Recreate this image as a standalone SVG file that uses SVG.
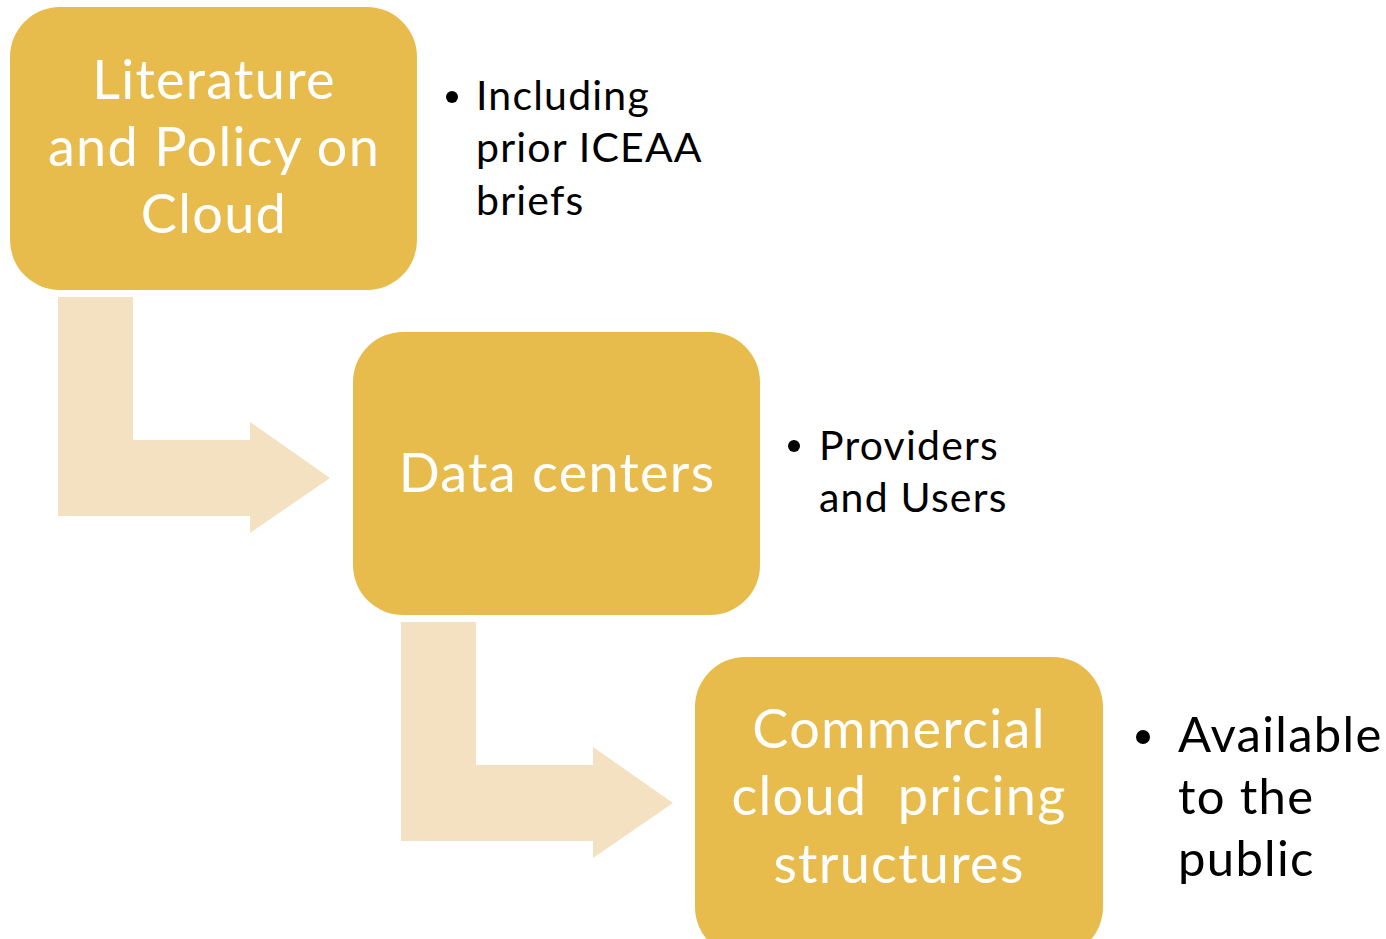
<svg xmlns="http://www.w3.org/2000/svg" width="1386" height="939" viewBox="0 0 1386 939">
<style>
.box{fill:#E8BC4C}
.arr{fill:#F3E1C2}
.bt{font-family:Lato,"Open Sans",sans-serif;font-size:54px;fill:#FFFFFF;text-anchor:middle;letter-spacing:1.3px}
.tx{font-family:Lato,"Open Sans",sans-serif;font-size:41px;fill:#000000;letter-spacing:1.2px}
.tx2{font-family:Lato,"Open Sans",sans-serif;font-size:49px;fill:#000000;letter-spacing:1.3px}
</style>
<rect width="1386" height="939" fill="#FFFFFF"/>
<g id="connectors">
<path class="arr" d="M58,297 H133 V440 H250 V422 L330,478 L250,533 V516 H58 Z"/>
<path class="arr" d="M401,622 H476 V765 H593 V747 L673,803 L593,858 V841 H401 Z"/>
</g>
<g id="node1">
<rect class="box" x="10" y="7" width="407" height="283" rx="50" ry="50"/>
<text class="bt" x="214" y="99">Literature</text>
<text class="bt" x="214" y="166">and Policy on</text>
<text class="bt" x="214" y="233">Cloud</text>
</g>
<g id="note1">
<circle cx="452" cy="97" r="6"/>
<text class="tx" x="476" y="110">Including</text>
<text class="tx" x="476" y="162">prior ICEAA</text>
<text class="tx" x="476" y="215">briefs</text>
</g>
<g id="node2">
<rect class="box" x="353" y="332" width="407" height="283" rx="50" ry="50"/>
<text class="bt" x="557" y="492">Data centers</text>
</g>
<g id="note2">
<circle cx="794" cy="446" r="6"/>
<text class="tx" x="819" y="460">Providers</text>
<text class="tx" x="819" y="512">and Users</text>
</g>
<g id="node3">
<rect class="box" x="695" y="657" width="408" height="300" rx="50" ry="50"/>
<text class="bt" x="899" y="748">Commercial</text>
<text class="bt" x="899" y="815" xml:space="preserve">cloud  pricing</text>
<text class="bt" x="899" y="883">structures</text>
</g>
<g id="note3">
<circle cx="1143" cy="737" r="7"/>
<text class="tx2" x="1178" y="752">Available</text>
<text class="tx2" x="1178" y="814">to the</text>
<text class="tx2" x="1178" y="876">public</text>
</g>
</svg>
